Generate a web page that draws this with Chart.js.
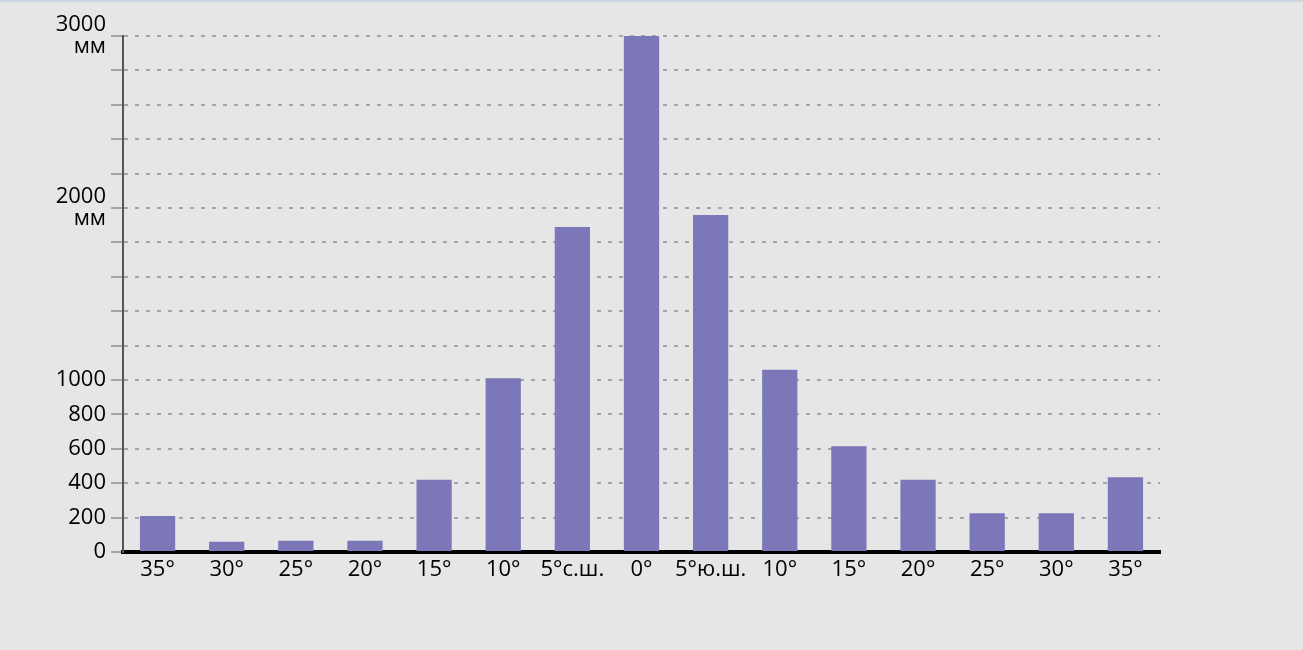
<!DOCTYPE html>
<html>
<head>
<meta charset="utf-8">
<script src="https://cdn.jsdelivr.net/npm/chart.js@4"></script>
<style>
  html, body { margin: 0; padding: 0; background: #e6e6e6; }
  body { border-top: 2px solid #cdd5e0; box-sizing: border-box; width: 1303px; height: 650px; overflow: hidden; }
  #wrap { position: relative; width: 1303px; height: 648px; }
</style>
</head>
<body>
<div id="wrap"><canvas id="c"></canvas></div>
<script>
const categories = ["35°", "30°", "25°", "20°", "15°", "10°", "5°с.ш.", "0°", "5°ю.ш.", "10°", "15°", "20°", "25°", "30°", "35°"];
const precipitation = [210, 60, 65, 65, 420, 1010, 1890, 3000, 1960, 1060, 615, 420, 225, 225, 435];
const labeledTicks = { 0: "0", 200: "200", 400: "400", 600: "600", 800: "800", 1000: "1000", 2000: ["2000", "мм"], 3000: ["3000", "мм"] };

new Chart(document.getElementById("c"), {
  type: "bar",
  data: {
    labels: categories,
    datasets: [{
      data: precipitation,
      backgroundColor: "#7b77b9",
      borderWidth: 0,
      barPercentage: 0.51,
      categoryPercentage: 1.0
    }]
  },
  options: {
    responsive: true,
    maintainAspectRatio: false,
    animation: false,
    layout: { padding: { top: 34, right: 143, left: 0, bottom: 0 } },
    plugins: { legend: { display: false }, tooltip: { enabled: false } },
    scales: {
      x: {
        grid: { display: false, drawTicks: false },
        border: { color: "#000", width: 4 },
        ticks: { color: "#000", font: { family: "Open Sans", size: 22 }, padding: 5, maxRotation: 0, autoSkip: false },
        afterFit: s => { s.height = 98; }
      },
      y: {
        min: 0, max: 3000,
        grid: { color: "#a5a5a5", lineWidth: 2, tickLength: 12, tickColor: "#a5a5a5" },
        border: { color: "#555", width: 2, dash: [4, 7] },
        ticks: {
          stepSize: 200,
          autoSkip: false,
          color: "#000",
          font: { family: "Open Sans", size: 22, lineHeight: 1.0 },
          padding: 5,
          callback: v => (labeledTicks[v] !== undefined ? labeledTicks[v] : "")
        },
        afterFit: s => { s.width = 123; }
      }
    }
  }
});
</script>
</body>
</html>
